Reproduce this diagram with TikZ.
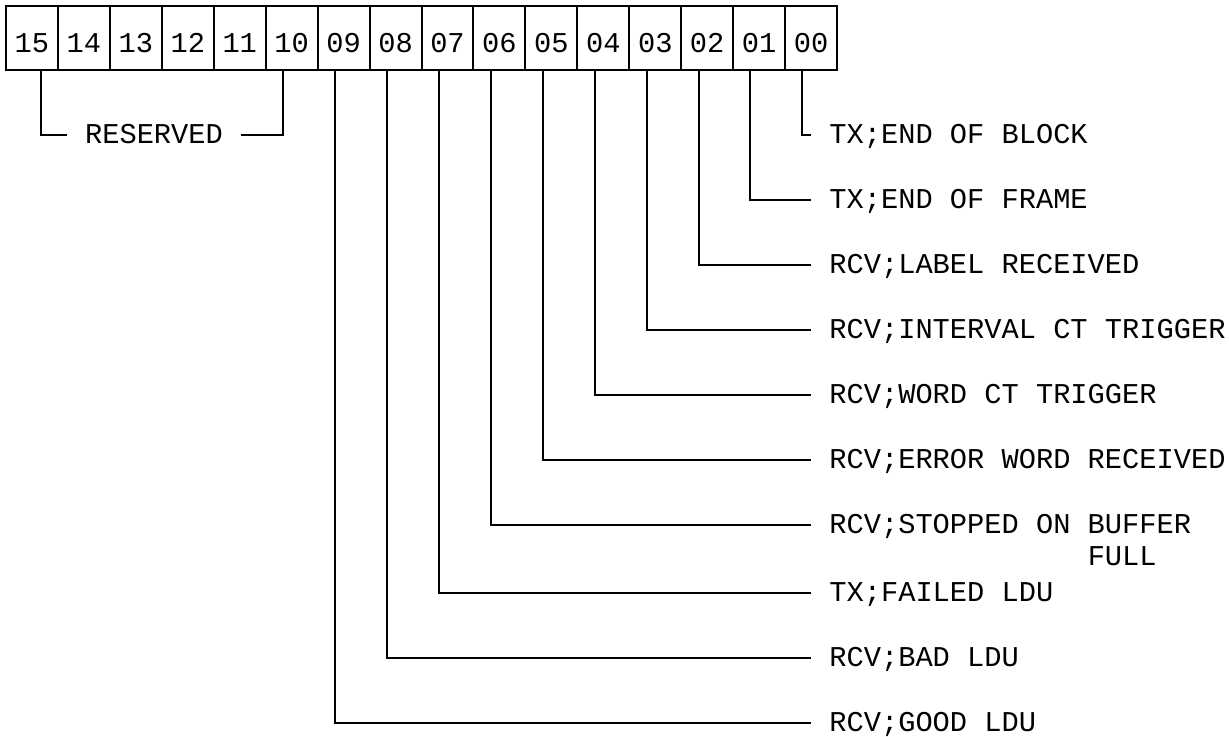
\documentclass[tikz,border=0pt]{standalone}
\usepackage{fontspec}
\newfontfamily\regfont{Liberation Mono}
\usetikzlibrary{positioning}
\tikzset{
    flagtext/.style={
        font=\regfont\fontsize{14.35}{16.33}\selectfont,
        text height=8.2pt, text depth=0pt
    },
    bitcell/.style={
        draw, line width=1pt, minimum width=25.97pt, minimum height=32pt,
        inner sep=0pt, outer sep=0pt,
        font=\regfont\fontsize{14.35}{16.33}\selectfont,
        text height=14pt, text depth=0pt
    },
    flaglabel/.style={
        flagtext, anchor=west, inner xsep=9pt, inner ysep=0pt
    },
    leader/.style={ line width=1pt }
}

\begin{document}
\begin{tikzpicture}[ x=0.5pt, y=-0.5pt ]

	\useasboundingbox (0, 0) rectangle (1230, 736);

	% status register, bit 15 on the left
	\foreach \bit [ count=\j from 0 ] in {15,14,13,12,11,10,09,08,07,06,05,04,03,02,01,00}
		\node[ bitcell ] (b\bit) at (31.97+51.94*\j, 38) {\bit};

	\node[ flagtext, inner xsep=9pt, inner ysep=0pt ] (res) at (154, 135) {RESERVED};

	\node[ flaglabel ] (l00) at (811, 135) {TX;END OF BLOCK};
	\node[ flaglabel ] (l01) at (811, 200) {TX;END OF FRAME};
	\node[ flaglabel ] (l02) at (811, 265) {RCV;LABEL RECEIVED};
	\node[ flaglabel ] (l03) at (811, 330) {RCV;INTERVAL CT TRIGGER};
	\node[ flaglabel ] (l04) at (811, 395) {RCV;WORD CT TRIGGER};
	\node[ flaglabel ] (l05) at (811, 460) {RCV;ERROR WORD RECEIVED};
	% second line hangs under BUFFER
	\node[ flaglabel ] (l06) at (811, 525) {\vtop{\hbox{RCV;STOPPED ON BUFFER}\hbox{\hphantom{RCV;STOPPED ON }FULL}}};
	\node[ flaglabel ] (l07) at (811, 593) {TX;FAILED LDU};
	\node[ flaglabel ] (l08) at (811, 658) {RCV;BAD LDU};
	\node[ flaglabel ] (l09) at (811, 723) {RCV;GOOD LDU};

	% one leader per flag bit
	\foreach \bit in {00,01,02,03,04,05,06,07,08,09}
		\draw[ leader ] ([ xshift=-4.33pt ]b\bit.south) |- (l\bit.west);

	\draw[ leader ] ([ xshift=4.33pt ]b15.south) |- (res.west);
	\draw[ leader ] ([ xshift=-4.33pt ]b10.south) |- (res.east);

\end{tikzpicture}
\end{document}
